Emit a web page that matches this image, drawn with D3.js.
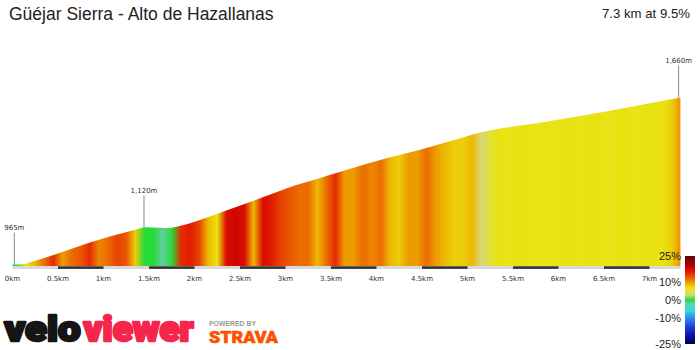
<!DOCTYPE html>
<html><head><meta charset="utf-8">
<script src="https://cdn.jsdelivr.net/npm/d3@7"></script>
<style>body{margin:0;background:#fff} svg{display:block}</style>
</head><body>
<script>
// ---- data ----
const titleText = "Güéjar Sierra - Alto de Hazallanas";
const summaryText = "7.3 km at 9.5%";

// outline of the profile (distance in km, elevation in m)
const distKm = [0, 0.08, 0.23, 0.5, 0.85, 1.07, 1.4, 1.445, 1.62, 1.73, 1.79, 2.06, 2.28, 2.65, 3.01, 3.38, 3.64, 4.11, 4.48, 4.92, 5.03, 5.91, 6.46, 7.34];
const elevM  = [965, 965, 979, 1011, 1057, 1082, 1115, 1120, 1118, 1117, 1121, 1150, 1181, 1231, 1282, 1325, 1355, 1407, 1443, 1490, 1503, 1562, 1598, 1660];
const totalKm = 7.34;

// gradient (%) of every 100 m stretch
const gradeStepKm = 0.1;
const grades = [
  0, 6, 9, 12, 15, 10, 12, 13, 15, 11,
  12, 14, 13, 8, 0, 0, -2, 0, 15, 16,
  14, 9, 7, 17, 18, 17, 9, 17, 16, 14,
  13, 12, 12, 9, 12, 15, 10, 10, 12, 11,
  12, 9, 8, 10, 10, 12, 10, 9, 8, 8,
  9, 3, 5, 7, 6, 7, 7, 6, 7, 6,
  7, 7, 6, 7, 7, 6, 7, 7, 6, 7,
  7, 7, 8, 10
];

// distance axis
const tickKm = [0, 0.5, 1, 1.5, 2, 2.5, 3, 3.5, 4, 4.5, 5, 5.5, 6, 6.5, 7];
const tickLabels = ["0km", "0.5km", "1km", "1.5km", "2km", "2.5km", "3km", "3.5km", "4km", "4.5km", "5km", "5.5km", "6km", "6.5km", "7km"];

// elevation markers
const markerKm = [0.02, 1.445, 7.32];
const markerElev = [965, 1120, 1660];
const markerLabels = ["965m", "1,120m", "1,660m"];

// gradient colour scale
const gradeStops  = [-25, -20, -15, -10, -6, -2, 0, 3, 6, 7, 9, 10, 11, 12, 13, 14, 15, 17, 20, 25];
const gradeColors = ["#000050", "#1010b0", "#2040e0", "#3090e8", "#30dce0", "#62cfa4", "#26db38", "#d6d878", "#e9e41a", "#eae210", "#ecb800", "#ed9c00", "#ec8600", "#eb6c00", "#ea5600", "#e84200", "#e42c00", "#dc0c00", "#b00000", "#5a0808"];

// legend
const legendGrades = [25, 10, 0, -10, -25];
const legendLabels = ["25%", "10%", "0%", "-10%", "-25%"];

// ---- drawing ----
const W = 700, H = 350;
const svg = d3.select("body").append("svg").attr("width", W).attr("height", H);
const defs = svg.append("defs");

const x = d3.scaleLinear().domain([0, 7]).range([12.5, 649.5]);
const y = d3.scaleLinear().domain([955, 1660]).range([267, 97.5]);
const color = d3.scaleLinear().domain(gradeStops).range(gradeColors).interpolate(d3.interpolateRgb).clamp(true);
const baseY = 266.5;

// horizontal gradient for the profile stripes
const grad = defs.append("linearGradient").attr("id", "profileGrad")
  .attr("gradientUnits", "userSpaceOnUse")
  .attr("x1", x(0)).attr("x2", x(totalKm)).attr("y1", 0).attr("y2", 0);
grades.forEach((g, i) => {
  const s = i * gradeStepKm, e = Math.min(totalKm, (i + 1) * gradeStepKm);
  const c = (s + e) / 2;
  grad.append("stop").attr("offset", c / totalKm).attr("stop-color", color(g));
});

const pts = distKm.map((d, i) => ({ km: d, m: elevM[i] }));
const area = d3.area()
  .x(d => x(d.km)).y0(baseY).y1(d => y(d.m))
  .curve(d3.curveMonotoneX);
svg.append("path").datum(pts).attr("d", area).attr("fill", "url(#profileGrad)");

// base bar
svg.append("rect").attr("x", x(0)).attr("y", 266).attr("width", x(totalKm) - x(0)).attr("height", 3).attr("fill", "#d9d9d9");
for (let i = 1; i + 1 < tickKm.length; i += 2) {
  svg.append("rect").attr("x", x(tickKm[i])).attr("y", 266.3)
    .attr("width", x(tickKm[i + 1]) - x(tickKm[i])).attr("height", 2.6).attr("fill", "#333");
}

// tick labels
svg.append("g").selectAll("text").data(tickKm).join("text")
  .attr("x", d => x(d)).attr("y", 280.5)
  .attr("text-anchor", "middle")
  .attr("font-family", "DejaVu Sans, Verdana, sans-serif").attr("font-size", 7)
  .attr("fill", "#333")
  .text((d, i) => tickLabels[i]);

// markers
markerKm.forEach((k, i) => {
  const px = x(k), py = y(markerElev[i]);
  svg.append("line").attr("x1", px).attr("x2", px).attr("y1", py - 32).attr("y2", py)
    .attr("stroke", "#8a8a8a").attr("stroke-width", 1);
  svg.append("text").attr("x", px).attr("y", py - 34.5)
    .attr("text-anchor", "middle")
    .attr("font-family", "DejaVu Sans, Verdana, sans-serif").attr("font-size", 7)
    .attr("fill", "#333").text(markerLabels[i]);
});

// title & summary
svg.append("text").attr("x", 9).attr("y", 20)
  .attr("font-family", "Liberation Sans, Arial, sans-serif").attr("font-size", 17.5)
  .attr("fill", "#222").text(titleText);
svg.append("text").attr("x", 690).attr("y", 18).attr("text-anchor", "end")
  .attr("font-family", "Liberation Sans, Arial, sans-serif").attr("font-size", 13.2)
  .attr("fill", "#222").text(summaryText);

// legend
const ly = d3.scaleLinear().domain([-25, 25]).range([344, 256]);
const lg = defs.append("linearGradient").attr("id", "legendGrad")
  .attr("x1", 0).attr("x2", 0).attr("y1", 0).attr("y2", 1);
d3.range(25, -25.01, -1).forEach(g => {
  lg.append("stop").attr("offset", (25 - g) / 50).attr("stop-color", color(g));
});
svg.append("rect").attr("x", 685).attr("y", ly(25)).attr("width", 10).attr("height", ly(-25) - ly(25))
  .attr("fill", "url(#legendGrad)");
svg.append("g").selectAll("text").data(legendGrades).join("text")
  .attr("x", 681).attr("y", d => ly(d) + 4)
  .attr("text-anchor", "end")
  .attr("font-family", "Liberation Sans, Arial, sans-serif").attr("font-size", 11)
  .attr("fill", "#222")
  .text((d, i) => legendLabels[i]);

// logos
function logoWord(txt, x0, len, fill) {
  svg.append("text").attr("x", x0).attr("y", 341)
    .attr("font-family", "Roboto, Lato, sans-serif").attr("font-weight", 900).attr("font-size", 35)
    .attr("textLength", len).attr("lengthAdjust", "spacingAndGlyphs")
    .attr("fill", fill).attr("stroke", fill).attr("stroke-width", 2.6)
    .attr("stroke-linejoin", "round").text(txt);
}
logoWord("velo", 4.5, 76, "#151515");
logoWord("viewer", 83.5, 110, "#f5264c");
svg.append("text").attr("x", 209).attr("y", 325.6)
  .attr("font-family", "Liberation Sans, Arial, sans-serif").attr("font-weight", 700).attr("font-size", 6.3)
  .attr("textLength", 47).attr("lengthAdjust", "spacingAndGlyphs")
  .attr("fill", "#9a9a9a").text("POWERED BY");
svg.append("text").attr("x", 209).attr("y", 343.3)
  .attr("font-family", "Roboto, Lato, sans-serif").attr("font-weight", 900).attr("font-size", 16)
  .attr("textLength", 69).attr("lengthAdjust", "spacingAndGlyphs")
  .attr("fill", "#fc5200").attr("stroke", "#fc5200").attr("stroke-width", 0.6).text("STRAVA");
</script>
</body></html>
